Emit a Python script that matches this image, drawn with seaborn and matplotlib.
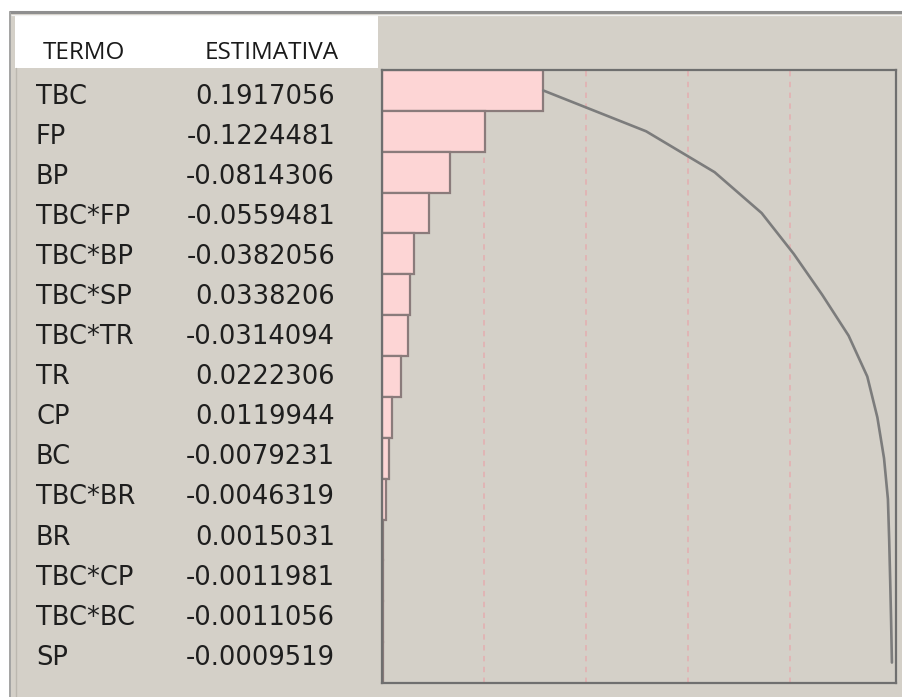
import numpy as np
import pandas as pd
import matplotlib
matplotlib.use("Agg")
import matplotlib.pyplot as plt
import seaborn as sns
from matplotlib.patches import Rectangle

# Pareto table of effect estimates
termos = ["TBC", "FP", "BP", "TBC*FP", "TBC*BP", "TBC*SP", "TBC*TR", "TR",
          "CP", "BC", "TBC*BR", "BR", "TBC*CP", "TBC*BC", "SP"]
estimativas = [0.1917056, -0.1224481, -0.0814306, -0.0559481, -0.0382056,
               0.0338206, -0.0314094, 0.0222306, 0.0119944, -0.0079231,
               -0.0046319, 0.0015031, -0.0011981, -0.0011056, -0.0009519]
cabecalho = ["TERMO", "ESTIMATIVA"]
guias = [0.2, 0.4, 0.6, 0.8]

df = pd.DataFrame({"termo": termos, "estimativa": estimativas})
df["abs"] = df["estimativa"].abs()
df["acum"] = df["abs"].cumsum()
total = df["abs"].sum()
n = len(df)

W, H = 902, 697
sns.set_theme(style="white")
plt.rcParams["font.family"] = ["DejaVu Sans"]

fig = plt.figure(figsize=(W / 100, H / 100), dpi=100)
fig.patch.set_facecolor("white")

painel = "#d4d0c8"

# window chrome drawn in pixel units
bg = fig.add_axes([0, 0, 1, 1], zorder=0)
bg.set_xlim(0, W)
bg.set_ylim(H, 0)
bg.axis("off")
bg.add_patch(Rectangle((9, 11), W - 9, H - 11, facecolor=painel, edgecolor="none"))
bg.plot([9, W], [12, 12], color="#8f8f8f", lw=2.2, solid_capstyle="butt")
bg.plot([9.5, 9.5], [12, H], color="#a4a4a4", lw=1.4, solid_capstyle="butt")
bg.plot([11, W], [14.8, 14.8], color="#f2f2f2", lw=0.9, solid_capstyle="butt")
bg.add_patch(Rectangle((15, 16), 363, 52, facecolor="white", edgecolor="none"))
bg.plot([15.5, 15.5], [68, H], color="#bcb8b0", lw=1.0)

# header
bg.text(43, 53, cabecalho[0], fontsize=17.5, family=["Open Sans", "DejaVu Sans"],
        color="#1a1a1a", ha="left", va="center")
bg.text(205, 53, cabecalho[1], fontsize=17.5, family=["Open Sans", "DejaVu Sans"],
        color="#1a1a1a", ha="left", va="center")

# table rows
y0, passo = 96.5, 40.1
for i, (t, e) in enumerate(zip(termos, estimativas)):
    y = y0 + i * passo
    bg.text(36, y, t, fontsize=18.5, color="#1e1e1e", ha="left", va="center")
    bg.text(335, y, f"{e:.7f}", fontsize=18.5, color="#1e1e1e", ha="right", va="center")

# Pareto plot
left, right, top, bottom = 382, 896, 70, 683
ax = fig.add_axes([left / W, 1 - bottom / H, (right - left) / W, (bottom - top) / H], zorder=1)
ax.set_facecolor(painel)

for g in guias:
    ax.axvline(g * total, color="#e2b3b3", lw=1.3, ls=(0, (3, 3)), zorder=0)

sns.barplot(data=df, x="abs", y="termo", orient="h", color="#fdd5d5",
            saturation=1, edgecolor="#8a7b7b", linewidth=1.6, width=1.0, ax=ax, zorder=2)
sns.lineplot(x=df["acum"].to_numpy(), y=np.arange(n), sort=False, estimator=None,
             color="#7c7c7c", lw=1.9, ax=ax, zorder=3)

ax.set_xlim(0, total * 1.008)
ax.set_ylim(n - 0.5, -0.5)
ax.set_xticks([])
ax.set_yticks([])
ax.set_xlabel("")
ax.set_ylabel("")
for s in ax.spines.values():
    s.set_visible(True)
    s.set_color("#6f6f6f")
    s.set_linewidth(1.6)

fig.savefig("out.png", dpi=100, facecolor=fig.get_facecolor())
